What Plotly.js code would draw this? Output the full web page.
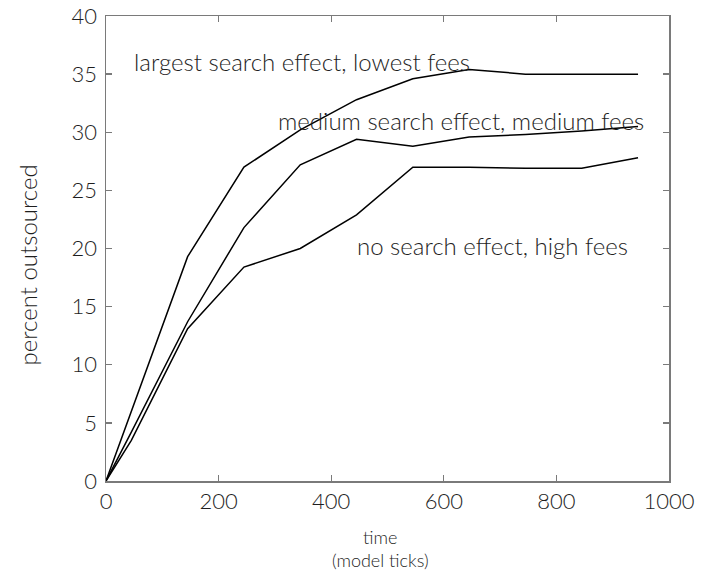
<!DOCTYPE html>
<html>
<head>
<meta charset="utf-8">
<script src="https://cdn.plot.ly/plotly-3.0.1.min.js"></script>
<style>
  html, body { margin: 0; padding: 0; background: #ffffff; }
  #chart { width: 717px; height: 585px; }
</style>
</head>
<body>
<div id="chart"></div>
<script>
// Simulation output: share of work outsourced over model time, three scenarios
const time = [0, 45, 145, 245, 345, 445, 545, 645, 745, 845, 945];
const largestSearchLowestFees = [0, 6.0, 19.3, 27.0, 30.2, 32.8, 34.6, 35.4, 35.0, 35.0, 35.0];
const mediumSearchMediumFees = [0, 4.2, 13.7, 21.8, 27.2, 29.4, 28.8, 29.6, 29.8, 30.1, 30.5];
const noSearchHighFees = [0, 3.5, 13.1, 18.4, 20.0, 22.9, 27.0, 27.0, 26.9, 26.9, 27.8];

const seriesLabels = [
  'largest search effect, lowest fees',
  'medium search effect, medium fees',
  'no search effect, high fees'
];
// where each series label sits, in data units (left edge, vertical middle)
const labelX = [46, 302, 442];
const labelY = [36.1, 31.05, 20.3];

const xTicks = [0, 200, 400, 600, 800, 1000];
const yTicks = [0, 5, 10, 15, 20, 25, 30, 35, 40];

const xTitle = 'time<br>(model ticks)';
const yTitle = 'percent outsourced';

const FONT = 'Lato, "Open Sans", "Noto Sans", sans-serif';
const TEXT = '#1e1e1e';
const AXIS = '#7a7a7a';

const lineStyle = { color: '#000000', width: 1.5 };
const allSeries = [largestSearchLowestFees, mediumSearchMediumFees, noSearchHighFees];

const traces = allSeries.map((vals, i) => ({
  x: time,
  y: vals,
  type: 'scatter',
  mode: 'lines',
  name: seriesLabels[i],
  line: lineStyle,
  hoverinfo: 'x+y'
}));

const axisCommon = {
  showgrid: false,
  zeroline: false,
  showline: true,
  linecolor: AXIS,
  linewidth: 1.5,
  mirror: 'ticks',
  ticks: 'inside',
  ticklen: 6,
  tickwidth: 1.3,
  tickcolor: AXIS,
  ticklabeloverflow: 'allow',
  tickfont: { family: FONT, size: 22, weight: 300, color: TEXT }
};

const annotations = seriesLabels.map((t, i) => ({
  text: t,
  x: labelX[i],
  y: labelY[i],
  xref: 'x',
  yref: 'y',
  xanchor: 'left',
  yanchor: 'middle',
  showarrow: false,
  font: { family: FONT, size: 24, weight: 300, color: TEXT }
}));

// axis titles
annotations.push({
  text: yTitle,
  xref: 'paper', yref: 'paper',
  x: 0, y: 0.4634,
  xshift: -78,
  xanchor: 'center', yanchor: 'middle',
  textangle: -90,
  showarrow: false,
  font: { family: FONT, size: 24, weight: 300, color: TEXT }
});
annotations.push({
  text: xTitle,
  xref: 'paper', yref: 'paper',
  x: 0.4867, y: 0,
  yshift: -43,
  xanchor: 'center', yanchor: 'top',
  showarrow: false,
  font: { family: FONT, size: 18, weight: 300, color: TEXT }
});

const layout = {
  width: 717,
  height: 585,
  margin: { l: 106, r: 48, t: 16, b: 104 },
  paper_bgcolor: '#ffffff',
  plot_bgcolor: '#ffffff',
  showlegend: false,
  font: { family: FONT, color: TEXT },
  xaxis: Object.assign({}, axisCommon, {
    range: [0, 1000],
    tickvals: xTicks,
    ticktext: xTicks.map(String),
    ticklabelstandoff: 0
  }),
  yaxis: Object.assign({}, axisCommon, {
    range: [0, 40],
    tickvals: yTicks,
    ticktext: yTicks.map(String),
    ticklabelstandoff: 3
  }),
  annotations: annotations
};

Plotly.newPlot('chart', traces, layout, { displayModeBar: false, staticPlot: true });
</script>
</body>
</html>
